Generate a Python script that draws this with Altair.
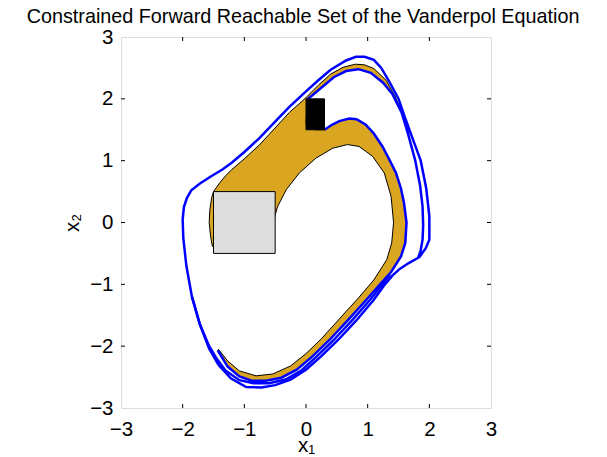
import altair as alt
import pandas as pd

TITLE = "Constrained Forward Reachable Set of the Vanderpol Equation"
TICKS = [-3, -2, -1, 0, 1, 2, 3]
INNER_TICKS = [-2, -1, 0, 1, 2]

# initial set (gray) and target set (black)
INIT_X = [-1.5, -0.5]
INIT_Y = [-0.5, 0.5]
TARGET_X = [0.0, 0.3]
TARGET_Y = [1.5, 2.0]

# reachable set boundary pieces
DIAG_X = [-1.5, -1.4, -1.3, -1.2, -1.0, -0.76, -0.5, -0.27, -0.1, 0.0]
DIAG_Y = [0.5, 0.64, 0.76, 0.86, 1.03, 1.25, 1.53, 1.78, 1.93, 2.02]
THIN_OUT_X = [0.2, 0.4, 0.6, 0.8, 0.95, 1.1, 1.3, 1.45, 1.55]
THIN_OUT_Y = [2.22, 2.4, 2.51, 2.56, 2.55, 2.49, 2.3, 2.03, 1.78]
THIN_IN_X = [1.4, 1.25, 1.05, 0.85, 0.65, 0.45, 0.2, 0.02]
THIN_IN_Y = [2.08, 2.26, 2.42, 2.48, 2.45, 2.35, 2.14, 1.99]
UNDER_BOX_X = [0.0, 0.15]
UNDER_BOX_Y = [1.6, 1.5]
BAND_OUT_X = [0.3, 0.42, 0.54, 0.7, 0.82, 0.97, 1.1, 1.24, 1.36, 1.46, 1.54, 1.59, 1.63,
              1.61, 1.54, 1.38, 1.2, 0.98, 0.68, 0.38, 0.1, -0.15, -0.4, -0.65, -0.88,
              -1.08, -1.27, -1.43]
BAND_OUT_Y = [1.5, 1.58, 1.64, 1.68, 1.67, 1.58, 1.44, 1.23, 1.0, 0.8, 0.55, 0.31, 0.0,
              -0.33, -0.55, -0.8, -1.0, -1.25, -1.58, -1.9, -2.17, -2.38, -2.51, -2.56, -2.56,
              -2.49, -2.33, -2.07]
BAND_IN_X = [-1.42, -1.27, -1.08, -0.81, -0.54, -0.25, 0.0, 0.25, 0.55, 0.85, 1.1, 1.31, 1.39,
             1.42, 1.38, 1.27, 1.08, 0.86, 0.67, 0.43, 0.16, -0.11, -0.32, -0.46, -0.5]
BAND_IN_Y = [-2.05, -2.24, -2.40, -2.48, -2.45, -2.32, -2.12, -1.88, -1.55, -1.22, -0.93, -0.6,
             -0.33, 0.0, 0.42, 0.80, 1.07, 1.23, 1.26, 1.20, 1.04, 0.80, 0.53, 0.26, 0.12]
UNDER_GRAY_X = [-0.6, -1.45]
UNDER_GRAY_Y = [-0.4, -0.45]
SLIVER_X = [-1.52, -1.55, -1.57, -1.56, -1.53, -1.5]
SLIVER_Y = [-0.38, -0.2, 0.0, 0.2, 0.4, 0.5]

# trajectory curves (blue)
SPIRAL_X = [0.02, 0.2, 0.45, 0.65, 0.85, 1.05, 1.25, 1.4, 1.55, 1.65, 1.77, 1.85, 1.89, 1.9,
            1.89, 1.86, 1.82, 1.66, 1.52, 1.40, 1.28, 1.1, 0.82, 0.52, 0.24, 0.0, -0.25, -0.5,
            -0.72, -0.97, -1.22, -1.42, -1.57, -1.72, -1.85, -1.94, -1.99, -2.0, -1.98, -1.93,
            -1.86, -1.72, -1.55, -1.35, -1.2, -1.0, -0.76, -0.5, -0.27, 0.0, 0.2, 0.4, 0.65,
            0.81, 0.95, 1.1, 1.22, 1.35, 1.5, 1.6, 1.75, 1.86, 1.95, 2.0, 2.0, 1.94, 1.83]
SPIRAL_Y = [1.99, 2.14, 2.35, 2.45, 2.48, 2.42, 2.26, 2.08, 1.78, 1.45, 1.01, 0.6, 0.26, -0.05,
            -0.28, -0.45, -0.57, -0.66, -0.75, -0.86, -1.0, -1.25, -1.58, -1.9, -2.17, -2.38,
            -2.54, -2.63, -2.67, -2.66, -2.52, -2.3, -2.04, -1.65, -1.2, -0.7, -0.25, 0.05, 0.25,
            0.4, 0.52, 0.63, 0.74, 0.86, 0.97, 1.14, 1.36, 1.63, 1.87, 2.12, 2.3, 2.47, 2.62,
            2.68, 2.68, 2.63, 2.5, 2.28, 2.0, 1.71, 1.3, 1.0, 0.55, 0.1, -0.28, -0.42, -0.57]
MID_X = [1.36, 1.24, 1.04, 0.75, 0.45, 0.17, -0.07, -0.33, -0.6, -0.85, -1.08, -1.3, -1.45,
         -1.57, -1.72, -1.85]
MID_Y = [-0.84, -1.0, -1.25, -1.58, -1.9, -2.17, -2.39, -2.54, -2.6, -2.6, -2.55, -2.4, -2.2,
         -2.0, -1.65, -1.2]

W, H = 370, 371
FONT = "Liberation Sans"
FS = 20.5

xs = alt.Scale(domain=[-3, 3], nice=False, zero=False)
ys = alt.Scale(domain=[-3, 3], nice=False, zero=False)
common_axis = dict(values=TICKS, ticks=False, tickSize=0, domain=False, grid=False,
                   labelFont=FONT, labelFontSize=FS, labelColor="black",
                   titleFont=FONT, titleFontSize=FS, titleFontWeight="normal",
                   titleColor="black", labelFlush=False, labelOverlap=False)
X = alt.X("x:Q", scale=xs, axis=alt.Axis(title="x₁", labelPadding=11, titlePadding=-4,
                                          **common_axis))
Y = alt.Y("y:Q", scale=ys, axis=alt.Axis(title="x₂", labelPadding=8, titlePadding=7,
                                          **common_axis))

# gold polygon
gx = (DIAG_X + THIN_OUT_X + THIN_IN_X + UNDER_BOX_X + BAND_OUT_X + BAND_IN_X
      + UNDER_GRAY_X + SLIVER_X)
gy = (DIAG_Y + THIN_OUT_Y + THIN_IN_Y + UNDER_BOX_Y + BAND_OUT_Y + BAND_IN_Y
      + UNDER_GRAY_Y + SLIVER_Y)
gold_df = pd.DataFrame({"x": gx, "y": gy, "i": range(len(gx))})
gold = alt.Chart(gold_df).mark_line(fill="#DAA520", stroke="black", strokeWidth=1,
                                    fillOpacity=1).encode(x=X, y=Y, order="i:Q")

curves = []
for name, cx, cy in [("spiral", SPIRAL_X, SPIRAL_Y), ("band", BAND_OUT_X, BAND_OUT_Y),
                     ("mid", MID_X, MID_Y)]:
    for k, (a, b) in enumerate(zip(cx, cy)):
        curves.append({"x": a, "y": b, "s": name, "i": k})
blue_df = pd.DataFrame(curves)
blue = alt.Chart(blue_df).mark_line(color="#0000FF", strokeWidth=2.5).encode(
    x=X, y=Y, detail="s:N", order="i:Q")

box_df = pd.DataFrame({"x": [INIT_X[0]], "x2": [INIT_X[1]], "y": [INIT_Y[0]], "y2": [INIT_Y[1]]})
init = alt.Chart(box_df).mark_rect(fill="#DDDDDD", stroke="black", strokeWidth=1).encode(
    x=X, x2="x2:Q", y=Y, y2="y2:Q")
tgt_df = pd.DataFrame({"x": [TARGET_X[0]], "x2": [TARGET_X[1]], "y": [TARGET_Y[0]], "y2": [TARGET_Y[1]]})
target = alt.Chart(tgt_df).mark_rect(fill="black", stroke="black", strokeWidth=1).encode(
    x=X, x2="x2:Q", y=Y, y2="y2:Q")

tx = pd.DataFrame({"x": INNER_TICKS})
ty = pd.DataFrame({"y": INNER_TICKS})
TL = 4
tick_top = alt.Chart(tx).mark_rule(color="black", strokeWidth=1).encode(
    x=X, y=alt.value(0), y2=alt.value(TL))
tick_bot = alt.Chart(tx).mark_rule(color="black", strokeWidth=1).encode(
    x=X, y=alt.value(H - TL), y2=alt.value(H))
tick_left = alt.Chart(ty).mark_rule(color="black", strokeWidth=1).encode(
    y=Y, x=alt.value(0), x2=alt.value(TL))
tick_right = alt.Chart(ty).mark_rule(color="black", strokeWidth=1).encode(
    y=Y, x=alt.value(W - TL), x2=alt.value(W))

chart = alt.layer(gold, blue, init, target, tick_top, tick_bot, tick_left, tick_right).properties(
    width=W, height=H,
    title=alt.TitleParams(TITLE, font=FONT, fontSize=19.8, fontWeight="normal",
                          color="black", anchor="middle", offset=0, dx=-3),
    autosize=alt.AutoSizeParams(type="none"),
    padding={"left": 113, "top": 29, "right": 100, "bottom": 48},
).configure_view(stroke="black", strokeWidth=1).configure(background="white")

chart.save("out.html", embed_options={"renderer": "svg", "actions": False})
